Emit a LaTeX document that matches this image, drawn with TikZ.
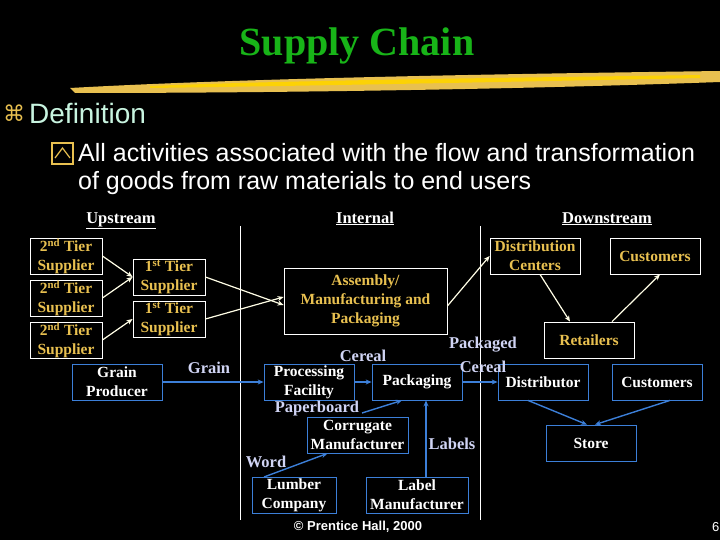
\documentclass[tikz,border=0pt]{standalone}
\usepackage{fontspec}
\setmainfont{Liberation Serif}
\newfontfamily\arialf{Liberation Sans}
\newfontfamily\djv{DejaVu Sans}
\usetikzlibrary{arrows.meta}
\definecolor{gold}{HTML}{E8C050}
\definecolor{bl}{HTML}{3C7FD8}
\definecolor{lbl}{HTML}{D0D4F4}
\definecolor{ttl}{HTML}{18B418}
\definecolor{defc}{HTML}{C8F4E0}
\begin{document}
\begin{tikzpicture}[x=1pt,y=-1pt,
  ybox/.style={draw=white,line width=0.8pt,text=gold,font=\fontsize{15.5}{19}\selectfont\bfseries,align=center,inner sep=0pt},
  bbox/.style={draw=bl,line width=0.8pt,text=white,font=\fontsize{15.5}{19}\selectfont\bfseries,align=center,inner sep=0pt},
  yarr/.style={draw=white!90!yellow,line width=1.2pt,-{Stealth[length=6pt,width=5pt]}},
  barr/.style={draw=bl,line width=1.4pt,-{Stealth[length=6pt,width=5pt]}},
  lab/.style={text=lbl,font=\fontsize{16.5}{18}\selectfont\bfseries},
  hdr/.style={text=white,font=\fontsize{16.5}{18}\selectfont\bfseries,anchor=base}]
\fill[black] (0,0) rectangle (720,540);
\useasboundingbox (0,0) rectangle (720,540);
% title
\node[text=ttl,font=\fontsize{40}{44}\selectfont\bfseries] (title) at (357,46) {Supply Chain};
\fill[gold] (70,88) .. controls (250,78) and (500,74) .. (720,71) -- (720,82) .. controls (500,90) and (250,93) .. (75,93) -- cycle;
\fill[yellow!70!orange] (150,86) .. controls (300,80) and (500,78) .. (700,75) -- (700,78) .. controls (500,82) and (300,86) .. (150,88) -- cycle;
\node[anchor=west,text=gold,font=\djv\fontsize{22}{24}\selectfont,inner sep=0pt] (cmd) at (3,113) {⌘};
\node[anchor=west,text=defc,font=\arialf\fontsize{28}{30}\selectfont,inner sep=0pt] (def) at (29,113) {Definition};
\draw[gold,line width=1.2pt] (52,143) rectangle (73,164);
\draw[gold,line width=1.2pt] (55,158) -- (62.5,148) -- (70,158);
\node[anchor=west,text=white,font=\arialf\fontsize{25}{28}\selectfont,inner sep=0pt] (l1) at (78,153) {All activities associated with the flow and transformation};
\node[anchor=west,text=white,font=\arialf\fontsize{25}{28}\selectfont,inner sep=0pt] (l2) at (78,183) {of goods from raw materials to end users};
% headers
\node[hdr] (up) at (121,223) {\underline{Upstream}};
\node[hdr] (in) at (365,223) {\underline{Internal}};
\node[hdr] (down) at (607,223) {\underline{Downstream}};
\draw[white,line width=0.8pt] (240,226) -- (240,520);
\draw[white,line width=0.8pt] (480,226) -- (480,520);
% yellow boxes
\node[ybox,minimum width=72,minimum height=36] (s1) at (66,256) {2\textsuperscript{nd} Tier\\Supplier};
\node[ybox,minimum width=72,minimum height=36] (s2) at (66,298) {2\textsuperscript{nd} Tier\\Supplier};
\node[ybox,minimum width=72,minimum height=36] (s3) at (66,340) {2\textsuperscript{nd} Tier\\Supplier};
\node[ybox,minimum width=72,minimum height=36] (f1) at (169,277) {1\textsuperscript{st} Tier\\Supplier};
\node[ybox,minimum width=72,minimum height=36] (f2) at (169,319) {1\textsuperscript{st} Tier\\Supplier};
\node[ybox,minimum width=163,minimum height=66] (asm) at (365.5,301) {Assembly/\\Manufacturing and\\Packaging};
\node[ybox,minimum width=90,minimum height=36] (dc) at (535,256) {Distribution\\Centers};
\node[ybox,minimum width=90,minimum height=36] (cu1) at (655,256) {Customers};
\node[ybox,minimum width=90,minimum height=36] (ret) at (589,340) {Retailers};
\draw[yarr] (s1.east) -- (f1.west);
\draw[yarr] (s2.east) -- (f1.west);
\draw[yarr] (s3.east) -- (f2.west);
\draw[yarr] (f1.east) -- ([yshift=-4]asm.west);
\draw[yarr] (f2.east) -- ([yshift=4]asm.west);
\draw[yarr] ([yshift=-5]asm.east) -- (dc.west);
\draw[yarr] ([xshift=5]dc.south) -- ([xshift=-19]ret.north);
\draw[yarr] ([xshift=23]ret.north) -- ([xshift=5]cu1.south);
% blue boxes
\node[bbox,minimum width=90,minimum height=36] (gp) at (117,382) {Grain\\Producer};
\node[bbox,minimum width=90,minimum height=36] (pf) at (309,382) {Processing\\Facility};
\node[bbox,minimum width=90,minimum height=36] (pk) at (417,382) {Packaging};
\node[bbox,minimum width=90,minimum height=36] (dis) at (543,382) {Distributor};
\node[bbox,minimum width=90,minimum height=36] (cu2) at (657,382) {Customers};
\node[bbox,minimum width=90,minimum height=36] (st) at (591,443) {Store};
\node[bbox,minimum width=101,minimum height=36] (cor) at (357.5,435) {Corrugate\\Manufacturer};
\node[bbox,minimum width=84,minimum height=36] (lum) at (294,495) {Lumber\\Company};
\node[bbox,minimum width=102,minimum height=36] (lm) at (417,495) {Label\\Manufacturer};
\draw[barr] (gp.east) -- (pf.west);
\draw[barr] (pf.east) -- (pk.west);
\draw[barr] (pk.east) -- (dis.west);
\draw[barr] ([xshift=-15]dis.south) -- ([xshift=-4]st.north);
\draw[barr] ([xshift=13]cu2.south) -- ([xshift=4]st.north);
\coordinate (pb) at (362,413);
\draw[barr] (pb) -- ([xshift=-15]pk.south);
\coordinate (wd) at (264,477);
\draw[barr] (wd) -- ([xshift=-30]cor.south);
\draw[barr] ([xshift=9]lm.north) -- ([xshift=9]pk.south);
% labels
\node[lab] (lg) at (209,368) {Grain};
\node[lab] (lc) at (363,356) {Cereal};
\node[lab] (lp) at (483,345) {Packaged};
\node[lab] (lc2) at (483,367) {Cereal};
\node[lab] (lpb) at (317,409) {Paperboard};
\node[lab] (lw) at (266,462) {Word};
\node[lab] (ll) at (452,444) {Labels};
\node[text=white,font=\arialf\fontsize{13}{14}\selectfont\bfseries] (ft) at (358,527) {© Prentice Hall, 2000};
\node[text=white,font=\arialf\fontsize{13}{14}\selectfont,anchor=west,inner sep=0pt] (pg) at (712,527) {6};
\end{tikzpicture}
\end{document}
